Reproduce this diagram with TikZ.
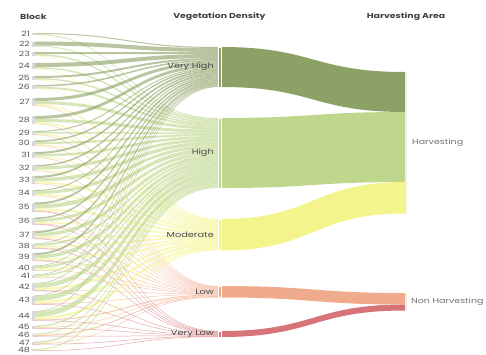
\documentclass[tikz,border=0pt]{standalone}
\usepackage{fontspec}
\newfontfamily\lblfont{Poppins}[FakeStretch=1.3]
\definecolor{cA}{RGB}{140,161,102}
\definecolor{cB}{RGB}{190,215,140}
\definecolor{cC}{RGB}{243,245,140}
\definecolor{cD}{RGB}{240,170,140}
\definecolor{cE}{RGB}{214,116,122}
\definecolor{lblgray}{RGB}{85,85,85}
\tikzset{
  blocklbl/.style={font=\lblfont\fontsize{7.2}{8}\selectfont, text=lblgray, inner sep=0pt, anchor=east},
  denslbl/.style={font=\lblfont\fontsize{7.5}{8}\selectfont, text=black!70, inner sep=0pt, anchor=east},
  harvlbl/.style={font=\lblfont\fontsize{7.3}{8}\selectfont, text=black!55, inner sep=0pt, anchor=west},
  hdr/.style={font=\lblfont\bfseries\fontsize{7.2}{8}\selectfont, text=black!75, inner sep=0pt},
  densnode/.style={draw=white, line width=0.4pt},
  harvnode/.style={fill=black!7},
}
\gdef\cpA{47}\gdef\cpB{118}\gdef\cpC{219}\gdef\cpD{286}\gdef\cpE{331}
\newcommand\flowband[2]{%
  \pgfmathsetmacro\ya{\bp}%
  \pgfmathsetmacro\yb{\csname cp#1\endcsname}%
  \pgfmathsetmacro\yaa{\ya+#2}%
  \pgfmathsetmacro\ybb{\yb+#2}%
  \fill[fill=c#1, fill opacity=0.62] (34.5,\ya) .. controls (126.5,\ya) and (126.5,\yb) .. (218.5,\yb) -- (218.5,\ybb) .. controls (126.5,\ybb) and (126.5,\yaa) .. (34.5,\yaa) -- cycle;%
  \xdef\bp{\yaa}%
  \expandafter\xdef\csname cp#1\endcsname{\ybb}%
}
\newcommand\blk[4]{%
  \pgfmathsetmacro\btop{#2-#3/2}%
  \xdef\bp{\btop}%
  \foreach \c/\w in {#4}{\expandafter\flowband\expandafter{\c}{\w}}%
  \node[blocklbl] (b#1) at (30,#2) {#1};%
  \fill[black!15] (32,\btop) rectangle (34.5,{\btop+#3});%
}
\newcommand\rband[5]{%
  \fill[fill=#1] (221.5,#2) .. controls (313.25,#2) and (313.25,#4) .. (405,#4) -- (405,#5) .. controls (313.25,#5) and (313.25,#3) .. (221.5,#3) -- cycle;%
}
\begin{document}
\begin{tikzpicture}[x=1pt,y=-1pt]
\useasboundingbox (0,0) rectangle (486,354);
% density -> harvesting
\rband{cA}{47}{87}{72}{112}
\rband{cB}{118}{188}{112}{182}
\rband{cC}{219}{250.5}{182}{213.5}
\rband{cD}{286}{297.5}{293}{304.5}
\rband{cE}{331}{337}{304.5}{310.5}
% blocks -> density
\blk{21}{34}{2}{A/1,B/1}
\blk{22}{44}{5}{A/4,B/1}
\blk{23}{54}{4}{A/2,B/1.5,C/0.5}
\blk{24}{66}{6}{A/4,B/1.5,C/0.5}
\blk{25}{78}{4}{A/2,B/1.5,C/0.5}
\blk{26}{87}{4}{A/1.5,B/2,C/0.5}
\blk{27}{102}{8}{A/3,B/3,C/1.5,D/0.5}
\blk{28}{120}{8}{A/3,B/3,C/1.5,D/0.5}
\blk{29}{133}{4}{A/1,B/1.5,C/1,D/0.5}
\blk{30}{143}{5}{A/1.5,B/2,C/1,D/0.5}
\blk{31}{155}{6}{A/2,B/2.5,C/1,D/0.5}
\blk{32}{168}{6}{A/1.5,B/3,C/1,D/0.5}
\blk{33}{180}{8}{A/2,B/3.5,C/2,D/0.5}
\blk{34}{193}{6}{A/1,B/3,C/1.5,D/0.5}
\blk{35}{207}{9}{A/2,B/4,C/2,D/0.5,E/0.5}
\blk{36}{221}{7}{A/1.5,B/3,C/1.5,D/0.5,E/0.5}
\blk{37}{235}{8}{A/2,B/3.5,C/1.5,D/0.5,E/0.5}
\blk{38}{246}{5}{A/0.5,B/2,C/1.5,D/0.5,E/0.5}
\blk{39}{257}{8}{A/2,B/3.5,C/1.5,D/0.5,E/0.5}
\blk{40}{268}{5}{A/0.5,B/2.5,C/1.5,D/0.5}
\blk{41}{276}{3}{A/0.5,B/1.5,C/0.5,D/0.5}
\blk{42}{287}{8}{A/0.5,B/4.5,C/2,D/0.5,E/0.5}
\blk{43}{300}{9}{A/0.5,B/5,C/2.5,D/0.5,E/0.5}
\blk{44}{316}{10}{A/0.5,B/5.5,C/2.5,D/1,E/0.5}
\blk{45}{327}{3}{B/1.5,C/0.5,D/0.5,E/0.5}
\blk{46}{335}{3}{B/1,C/0.5,D/1,E/0.5}
\blk{47}{343}{3}{B/1.5,C/0.5,D/0.5,E/0.5}
\blk{48}{350}{2}{B/1,C/0.5,E/0.5}
% density nodes
\fill[cA, densnode] (218.5,47) rectangle (221.5,87);
\fill[cB, densnode] (218.5,118) rectangle (221.5,188);
\fill[cC, densnode] (218.5,219) rectangle (221.5,250.5);
\fill[cD, densnode] (218.5,286) rectangle (221.5,297.5);
\fill[cE, densnode] (218.5,331) rectangle (221.5,337);
\node[denslbl] (vh) at (214,67) {Very High};
\node[denslbl] (hi) at (214,153) {High};
\node[denslbl] (mo) at (214,235) {Moderate};
\node[denslbl] (lo) at (214,292) {Low};
\node[denslbl] (vl) at (214,334) {Very Low};
% harvesting nodes
\fill[harvnode] (405,72) rectangle (407,213.5);
\fill[harvnode] (405,293) rectangle (407,310.5);
\node[harvlbl] (hv) at (412,143) {Harvesting};
\node[harvlbl] (nh) at (411,302) {Non Harvesting};
% headers
\node[hdr, anchor=west] (h1) at (20,17) {Block};
\node[hdr] (h2) at (219.5,17) {Vegetation Density};
\node[hdr] (h3) at (406,17) {Harvesting Area};
\end{tikzpicture}
\end{document}
